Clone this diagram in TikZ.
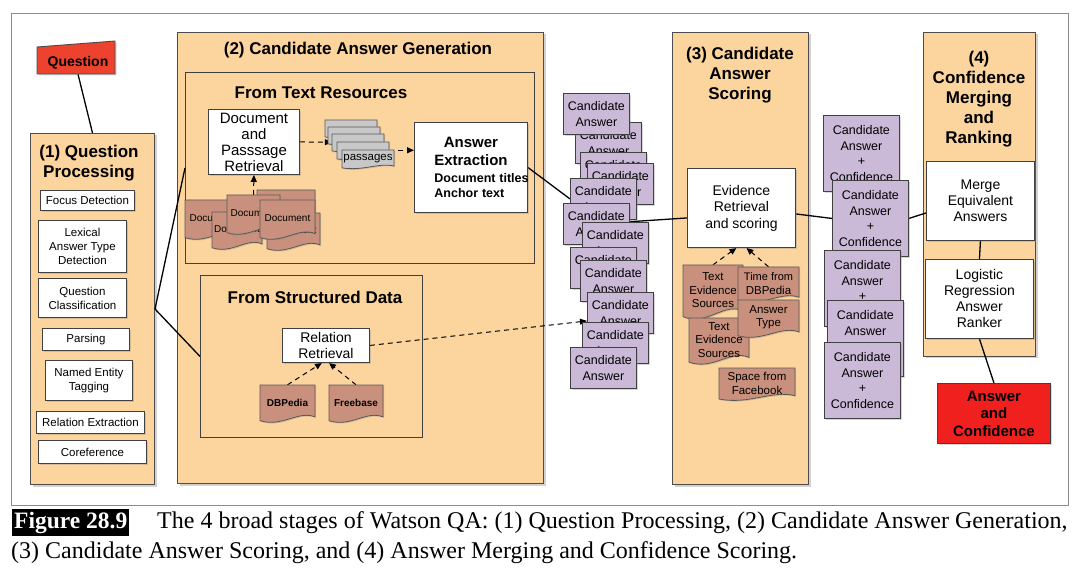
\documentclass[tikz,border=0pt]{standalone}
\usepackage{fontspec}
\setmainfont{Liberation Serif}
\setsansfont{Liberation Sans}
\usepackage{tikz}
\usetikzlibrary{arrows.meta,positioning,backgrounds,shadows}
\usepackage{xcolor}

\definecolor{panelorange}{RGB}{252,212,158}
\definecolor{askred}{RGB}{236,66,46}
\definecolor{ansred}{RGB}{240,32,30}
\definecolor{candpurple}{RGB}{202,186,216}
\definecolor{docbrown}{RGB}{201,145,125}
\definecolor{passgray}{RGB}{200,200,200}

\pgfdeclarelayer{panels}
\pgfdeclarelayer{links}
\pgfsetlayers{panels,links,main}

\newcommand\fs[2]{\fontsize{#1}{#2}\selectfont}

% document with a wavy lower edge: [fill]{name}{x}{y}{width}{height}{text}
\newcommand\docshape[7][docbrown]{%
  \pgfmathsetmacro\docL{#3}\pgfmathsetmacro\docR{#3+#5}%
  \pgfmathsetmacro\docT{#4}\pgfmathsetmacro\docB{#4+#6}%
  \filldraw[docline, fill=#1] (\docL,\docT) -- (\docR,\docT) -- (\docR,\docB-0.16*#6)
    .. controls (\docR-0.3*#5,\docB-0.34*#6) and (\docL+0.4*#5,\docB+0.12*#6) .. (\docL,\docB-0.06*#6) -- cycle;
  \node[doctext, minimum width={(#5)*1pt}, minimum height={0.92*(#6)*1pt}] (#2) at ({#3+0.5*#5},{#4+0.46*#6}) {#7};
}

\begin{document}
\begin{tikzpicture}[x=1pt, y=-1pt,
    panel/.style={draw=black!70, fill=panelorange, line width=1pt, anchor=north west,
      drop shadow={shadow xshift=2pt, shadow yshift=-2pt, opacity=0.35}},
    subpanel/.style={draw=black!75, fill=panelorange, line width=0.9pt, anchor=north west},
    ptitle/.style={font=\sffamily\bfseries\fs{17}{20}, align=center, inner sep=0pt},
    wbox/.style={draw=black!75, fill=white, line width=0.9pt, align=center, inner sep=1pt, anchor=north west,
      drop shadow={shadow xshift=1.5pt, shadow yshift=-1.5pt, opacity=0.3}, font=\sffamily\fs{11.5}{14}},
    cand/.style={draw=black!75, fill=candpurple, line width=0.9pt, align=center, inner sep=1pt, anchor=north west,
      drop shadow={shadow xshift=1.5pt, shadow yshift=-1.5pt, opacity=0.3},
      minimum width=66pt, minimum height=41pt, font=\sffamily\fs{12.5}{15.5}},
    docline/.style={draw=black!65, line width=0.8pt, drop shadow={shadow xshift=1.2pt, shadow yshift=-1.2pt, opacity=0.3}},
    doctext/.style={inner sep=0pt, align=center, font=\sffamily\fs{11.5}{13.5}},
    link/.style={line width=1.3pt},
    feed/.style={line width=1pt, dash pattern=on 5pt off 4pt, -{Triangle[length=7pt,width=6pt]}},
    caption/.style={font=\rmfamily\fs{24}{27}, inner sep=0pt, anchor=base west}
  ]
  \useasboundingbox (0,0) rectangle (1080,580);

  % frame and the four stage panels
  \begin{pgfonlayer}{panels}
    \fill[white] (0,0) rectangle (1080,580);
    \draw[black!45, line width=1pt] (11,14) rectangle (1068,505);
    \node[panel, minimum width=124pt, minimum height=351pt] (qp) at (30,133) {};
    \node[panel, minimum width=366pt, minimum height=451pt] (gen) at (177,32) {};
    \node[subpanel, minimum width=349pt, minimum height=191pt] (textres) at (185,72) {};
    \node[subpanel, minimum width=222pt, minimum height=162pt] (structd) at (200,275) {};
    \node[panel, minimum width=136pt, minimum height=452pt] (score) at (672,32) {};
    \node[panel, minimum width=112pt, minimum height=324pt] (merging) at (923,32) {};
  \end{pgfonlayer}

  \node[ptitle] (qptitle) at (89,163) {(1) Question\\Processing};
  \node[ptitle] (gentitle) at (358,50) {(2) Candidate Answer Generation};
  \node[ptitle] (textrestitle) at (321,93) {From Text Resources};
  \node[ptitle] (structdtitle) at (315,297) {From Structured Data};
  \node[ptitle] (scoretitle) at (740,75) {(3) Candidate\\Answer\\Scoring};
  \node[ptitle] (mergingtitle) at (979,99) {(4)\\Confidence\\Merging\\and\\Ranking};

  % question
  \filldraw[fill=askred, draw=black!70, line width=0.9pt,
    drop shadow={shadow xshift=1.5pt, shadow yshift=-1.5pt, opacity=0.3}]
    (37,47) -- (115,41) -- (115,74) -- (37,74) -- cycle;
  \node[font=\sffamily\bfseries\fs{14}{16}, minimum height=22pt, inner sep=0pt] (question) at (78,63) {Question};

  % (1) question processing steps
  \foreach \nm/\x/\y/\w/\h/\txt in {focus/40/190/94/20/{Focus Detection},
      lat/38/220/88/52/{Lexical\\Answer Type\\Detection},
      qclass/38/278/88/39/{Question\\Classification},
      parse/42/328/87/22/{Parsing},
      ner/45/360/87/40/{Named Entity\\Tagging},
      relx/36/411/108/22/{Relation Extraction},
      coref/38/440/108/23/{Coreference}}{
    \node[wbox, minimum width=\w pt, minimum height=\h pt] (\nm) at (\x,\y) {\txt};
  }

  % (2) from text resources
  \node[wbox, font=\sffamily\fs{15}{16}, minimum width=91pt, minimum height=65pt] (dpr) at (208,109)
    {Document\\and\\Passsage\\Retrieval};
  \foreach \nm/\x/\y/\w/\h in {d2/257/190/58/38, d5/267/213/53/38, d1/185/200/55/40,
      d3/212/212/50/38, d4/227/195/53/40, d6/260/200/55/40}{
    \docshape{\nm}{\x}{\y}{\w}{\h}{\fs{10}{12}Document}
  }
  \foreach \nm/\x/\y in {pass1/325/120, pass2/328/127, pass3/332/134, pass4/337/142}{
    \docshape[passgray]{\nm}{\x}{\y}{52}{18}{}
  }
  \docshape[passgray]{pass5}{342}{150}{52}{19}{passages}
  \node[wbox, minimum width=113pt, minimum height=90pt, text width=109pt, align=left] (ae) at (414,122)
    {{\centering\bfseries\fs{15}{18}Answer\\Extraction\par}\vspace{2pt}
     {\bfseries\fs{12.5}{15}\hspace*{18pt}\mbox{Document titles}\\\hspace*{18pt}\mbox{Anchor text}\par}};

  % (2) from structured data
  \node[wbox, font=\sffamily\fs{14}{16}, minimum width=87pt, minimum height=34pt] (rr) at (282,328) {Relation\\Retrieval};
  \docshape{dbp}{260}{385}{55}{38}{\bfseries\fs{10}{12}DBPedia}
  \docshape{fbase}{329}{385}{54}{38}{\bfseries\fs{10}{12}Freebase}

  % candidate answers
  \foreach \i/\x/\y in {1/575/122, 2/563/93, 3/580/152, 4/587/163, 5/570/178, 6/563/203,
      7/582/222, 8/570/247, 9/580/260, 10/587/292, 11/582/322, 12/570/347}{
    \node[cand] (ca\i) at (\x,\y) {Candidate\\Answer};
  }

  % (3) scoring
  \node[wbox, font=\sffamily\fs{14}{16.5}, minimum width=108pt, minimum height=79pt] (erv) at (687,168)
    {Evidence\\Retrieval\\and scoring};
  \docshape{tes1}{683}{265}{60}{55}{Text\\Evidence\\Sources}
  \docshape{tes2}{689}{318}{60}{47}{Text\\Evidence\\Sources}
  \docshape{timedbp}{738}{267}{61}{36}{\fs{11}{12.5}Time from\\DBPedia}
  \docshape{anstype}{738}{300}{61}{38}{Answer\\Type}
  \docshape{spacefb}{719}{368}{76}{33}{Space from\\Facebook}

  % scored candidates
  \foreach \i/\x/\y in {1/823/115, 2/832/180, 3/824/250, 4/827/300, 5/824/342}{
    \node[cand, minimum width=76pt, minimum height=76pt] (cac\i) at (\x,\y) {Candidate\\Answer\\+\\Confidence};
  }

  % (4) merging and ranking
  \node[wbox, font=\sffamily\fs{14}{16}, minimum width=108pt, minimum height=79pt] (merge) at (926,161)
    {Merge\\Equivalent\\Answers};
  \node[wbox, font=\sffamily\fs{14}{16}, minimum width=108pt, minimum height=79pt] (lr) at (925,259)
    {Logistic\\Regression\\Answer\\Ranker};
  \node[draw=black!75, fill=ansred, line width=0.9pt, align=center, anchor=north west, inner sep=1pt,
    drop shadow={shadow xshift=1.5pt, shadow yshift=-1.5pt, opacity=0.3},
    font=\sffamily\bfseries\fs{15}{17.5}, minimum width=113pt, minimum height=60pt] (answer) at (937,383)
    {Answer\\and\\Confidence};

  % connectors
  \begin{pgfonlayer}{links}
    \draw[link] (question.south) -- (qp.north);
    \draw[link] (qp.east) -- (textres.west);
    \draw[link] (qp.east) -- (structd.west);
    \draw[feed] (d4.north) -- (dpr.south);
    \draw[feed] (dpr.east) -- (pass3.west);
    \draw[feed] (pass4.east) -- (pass4.east -| ae.west);
    \draw[feed] (dbp.north) -- ([xshift=-4pt]rr.south);
    \draw[feed] (fbase.north) -- ([xshift=3pt]rr.south);
    \draw[feed] (rr.east) -- ([yshift=-8pt]ca10.west);
    \draw[link] (ae.east) -- (ca5.west);
    \draw[link] (ca6.center) -- ([yshift=-10pt]erv.west);
    \draw[feed] (tes1.north) -- ([xshift=-5pt]erv.south);
    \draw[feed] (timedbp.north) -- ([xshift=5pt]erv.south);
    \draw[link] ([yshift=-6pt]erv.east) -- (cac2.west);
    \draw[link] (cac2.east) -- ([yshift=-12pt]merge.west);
    \draw[link] (merge.south) -- (lr.north);
    \draw[link] (lr.south) -- (answer.north);
  \end{pgfonlayer}

  % caption
  \node[fill=black, text=white, font=\rmfamily\bfseries\fs{23.5}{26}, inner xsep=2pt, inner ysep=3pt,
    anchor=base west] (figtag) at (12,528) {Figure 28.9};
  \node[caption] (capline1) at (157,528)
    {The 4 broad stages of Watson QA: (1) Question Processing, (2) Candidate Answer Generation,};
  \node[caption] (capline2) at (11,558)
    {(3) Candidate Answer Scoring, and (4) Answer Merging and Confidence Scoring.};
\end{tikzpicture}
\end{document}
